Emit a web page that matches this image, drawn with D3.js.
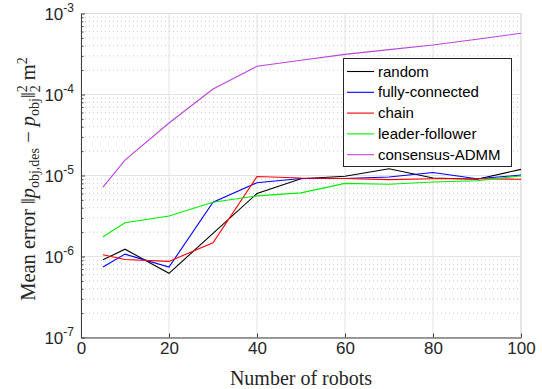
<!DOCTYPE html>
<html><head><meta charset="utf-8">
<script src="https://cdn.jsdelivr.net/npm/d3@7"></script>
<style>body{margin:0;background:#fff}</style>
</head><body>
<svg id="c" width="542" height="389"></svg>
<script>
const robots = [5, 10, 20, 30, 40, 50, 60, 70, 80, 90, 100];
const randomErr = [9.1e-7, 1.23e-6, 6.2e-7, 1.93e-6, 6.0e-6, 9.1e-6, 9.8e-6, 1.21e-5, 9.3e-6, 9.0e-6, 1.19e-5];
const fullyErr = [7.4e-7, 1.07e-6, 7.4e-7, 4.67e-6, 8.15e-6, 9.2e-6, 9.2e-6, 9.6e-6, 1.09e-5, 9.1e-6, 1.01e-5];
const chainErr = [1.05e-6, 9.2e-7, 8.7e-7, 1.48e-6, 9.7e-6, 9.3e-6, 9.2e-6, 8.9e-6, 9.1e-6, 9.1e-6, 9.0e-6];
const leaderErr = [1.75e-6, 2.61e-6, 3.16e-6, 4.67e-6, 5.6e-6, 6.1e-6, 8.0e-6, 7.8e-6, 8.3e-6, 8.6e-6, 9.9e-6];
const admmErr = [7.2e-6, 1.55e-5, 4.45e-5, 1.17e-4, 2.23e-4, 2.65e-4, 3.13e-4, 3.58e-4, 4.08e-4, 4.8e-4, 5.7e-4];
const seriesNames = ["random", "fully-connected", "chain", "leader-follower", "consensus-ADMM"];
const seriesColors = ["#000000", "#0000ff", "#ff0000", "#00f000", "#bb44dd"];
const xTicks = [0, 20, 40, 60, 80, 100];
const yExponents = [-3, -4, -5, -6, -7];

const allSeries = [randomErr, fullyErr, chainErr, leaderErr, admmErr];
const svg = d3.select("#c");
const L = 81, R = 521, T = 13.5, B = 337.5;
const x = d3.scaleLinear().domain([0, 100]).range([L, R]);
const y = d3.scaleLog().domain([1e-7, 1e-3]).range([B, T]);

// minor grid
const minors = [];
for (let e = -7; e < -3; e++) for (let m = 2; m <= 9; m++) minors.push(m * Math.pow(10, e));
svg.append("g").selectAll("line").data(minors).join("line")
  .attr("x1", L).attr("x2", R).attr("y1", d => y(d)).attr("y2", d => y(d))
  .attr("stroke", "#c8c8c8").attr("stroke-width", 1).attr("stroke-dasharray", "1,3");
// major grid
svg.append("g").selectAll("line").data(yExponents.map(e => Math.pow(10, e))).join("line")
  .attr("x1", L).attr("x2", R).attr("y1", d => y(d)).attr("y2", d => y(d))
  .attr("stroke", "#e3e3e3").attr("stroke-width", 1);
svg.append("g").selectAll("line").data(xTicks).join("line")
  .attr("x1", d => x(d)).attr("x2", d => x(d)).attr("y1", T).attr("y2", B)
  .attr("stroke", "#e3e3e3").attr("stroke-width", 1);
// box top/right
svg.append("path").attr("d", `M${L},${T}H${R}V${B}`).attr("fill", "none").attr("stroke", "#d9d9d9").attr("stroke-width", 1);

// axes
const xAxis = svg.append("g").attr("transform", `translate(0,${B})`)
  .call(d3.axisBottom(x).tickValues(xTicks).tickSize(-4).tickPadding(4).tickSizeOuter(0));
xAxis.select(".domain").attr("stroke", "#404040");
xAxis.selectAll(".tick line").attr("stroke", "#404040");
xAxis.selectAll("text").attr("font-family", "Liberation Sans, Arial, sans-serif").attr("font-size", 17).attr("fill", "#262626");

const yAxis = svg.append("g").attr("transform", `translate(${L},0)`)
  .call(d3.axisLeft(y).tickValues(minors.concat(yExponents.map(e => Math.pow(10, e))))
    .tickSize(-4).tickFormat("").tickSizeOuter(0));
yAxis.selectAll(".tick line").attr("stroke", "#404040").attr("x2", d => Number.isInteger(Math.log10(d)) ? 4 : 2.5);
yAxis.select(".domain").attr("stroke", "#404040");

const yl = svg.append("g").selectAll("text").data(yExponents).join("text")
  .attr("x", 74).attr("y", d => y(Math.pow(10, d)) + 6)
  .attr("text-anchor", "end").attr("font-family", "Liberation Sans, Arial, sans-serif").attr("fill", "#262626");
yl.append("tspan").attr("font-size", 17).text("10");
yl.append("tspan").attr("font-size", 12).attr("dy", -8).text(d => String(d));

// lines
const line = d3.line().x((d, i) => x(robots[i])).y(d => y(d));
svg.append("g").selectAll("path").data(allSeries).join("path")
  .attr("d", d => line(d)).attr("fill", "none")
  .attr("stroke", (d, i) => seriesColors[i]).attr("stroke-width", 1.1);

// legend
const lg = svg.append("g");
lg.append("rect").attr("x", 343.5).attr("y", 58.5).attr("width", 168).attr("height", 108)
  .attr("fill", "#fff").attr("stroke", "#262626").attr("stroke-width", 1);
seriesNames.forEach((n, i) => {
  const yy = 71.5 + i * 20.8;
  lg.append("line").attr("x1", 347).attr("x2", 374).attr("y1", yy).attr("y2", yy)
    .attr("stroke", seriesColors[i]).attr("stroke-width", 1.1);
  lg.append("text").attr("x", 378).attr("y", yy + 5).attr("font-family", "Liberation Sans, Arial, sans-serif")
    .attr("font-size", 15).attr("fill", "#000").text(n);
});

// x label
svg.append("text").attr("x", x(50)).attr("y", 385).attr("text-anchor", "middle")
  .attr("font-family", "Liberation Serif, Times New Roman, serif").attr("font-size", 20).attr("fill", "#262626")
  .text("Number of robots");

// y label
const ylab = svg.append("text").attr("transform", `translate(35,179) rotate(-90)`)
  .attr("text-anchor", "middle").attr("font-family", "Liberation Serif, Times New Roman, serif")
  .attr("font-size", 20.5).attr("fill", "#262626");
ylab.append("tspan").text("Mean error \u2016");
ylab.append("tspan").attr("font-style", "italic").text("p");
ylab.append("tspan").attr("font-size", 14).attr("dy", 4).text("obj,des");
ylab.append("tspan").attr("dy", -4).text(" \u2212 ");
ylab.append("tspan").attr("font-style", "italic").text("p");
ylab.append("tspan").attr("font-size", 14).attr("dy", 4).text("obj");
ylab.append("tspan").attr("dy", -4).text("\u2016");
ylab.append("tspan").attr("font-size", 14).attr("dy", 5).text("2");
ylab.append("tspan").attr("font-size", 14).attr("dy", -13).attr("dx", -7).text("2");
ylab.append("tspan").attr("dy", 8).text(" m");
ylab.append("tspan").attr("font-size", 14).attr("dy", -8).text("2");
</script>
</body></html>
